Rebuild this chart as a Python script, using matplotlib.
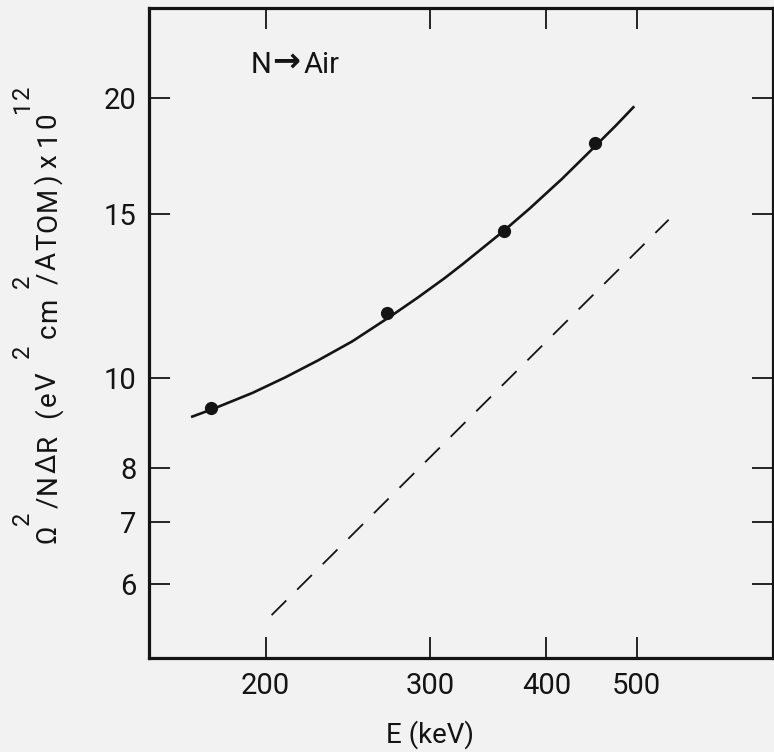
import matplotlib
matplotlib.use("Agg")
import matplotlib.pyplot as plt
from matplotlib.ticker import FixedLocator, FixedFormatter, NullLocator

plt.rcParams['font.family'] = ['Roboto', 'DejaVu Sans']

# data
point_E = [175, 270, 360, 451]
point_S = [9.29, 11.74, 14.4, 17.9]

curve_E = [166.4, 175.5, 193.7, 210.1, 227.8, 247.7, 273.3, 291.4, 311.3,
           325.4, 359.6, 383.7, 415.9, 447.8, 475.0, 497.0]
curve_S = [9.08, 9.26, 9.64, 10.02, 10.45, 10.95, 11.68, 12.21, 12.81,
           13.26, 14.38, 15.21, 16.38, 17.62, 18.69, 19.6]

dashed_E = [203, 541]
dashed_S = [5.56, 14.8]

x_ticks = [200, 300, 400, 500]
x_ticklabels = ['200', '300', '400', '500']
y_ticks = [6, 7, 8, 10, 15, 20]
y_ticklabels = ['6', '7', '8', '10', '15', '20']

# y-axis label pieces: (text, is_superscript)
ylabel_pieces = [('Ω', False), ('2', True), ('/NΔR', False), ('(eV', False),
                 ('2', True), ('cm', False), ('2', True), ('/ATOM)', False),
                 ('x', False), ('10', False), ('12', True)]
# start (bottom end) of each piece, pixels from top of figure (text layout)
ylabel_starts = [543, 525, 508, 418, 358, 338, 288, 284, 168, 146, 114]

W, H = 774, 752
bg = '#f2f2f2'
ink = '#141414'

fig = plt.figure(figsize=(W / 100, H / 100), dpi=100, facecolor=bg)
ax = fig.add_axes([149 / W, 94 / H, 624 / W, 650 / H], facecolor=bg)

ax.plot(curve_E, curve_S, color=ink, lw=1.9, solid_capstyle='butt',
        solid_joinstyle='round')
ax.plot(point_E, point_S, 'o', color=ink, ms=8.5)
ax.plot(dashed_E, dashed_S, color=ink, lw=1.3, linestyle=(0, (11.5, 8.5)))

ax.set_xscale('log')
ax.set_yscale('log')
ax.set_xlim(150, 700)
ax.set_ylim(5, 25)

ax.xaxis.set_major_locator(FixedLocator(x_ticks))
ax.xaxis.set_major_formatter(FixedFormatter(x_ticklabels))
ax.xaxis.set_minor_locator(NullLocator())
ax.yaxis.set_major_locator(FixedLocator(y_ticks))
ax.yaxis.set_major_formatter(FixedFormatter(y_ticklabels))
ax.yaxis.set_minor_locator(NullLocator())

ax.tick_params(which='major', direction='in', length=15, width=1.3, color=ink,
               top=True, right=True, labelsize=21, labelcolor=ink)
ax.tick_params(axis='y', pad=9)
ax.tick_params(axis='x', pad=10)

for s in ax.spines.values():
    s.set_linewidth(2.3)
    s.set_color(ink)

ax.set_xlabel('E (keV)', fontsize=20, color=ink)
ax.xaxis.set_label_coords((430 - 149) / 624, -0.095)

# rotated y label, drawn character by character with some letter spacing
renderer = fig.canvas.get_renderer()
tracking = 2.0
for (txt, sup), y0 in zip(ylabel_pieces, ylabel_starts):
    xb = 29 if sup else 56
    size = 17 if sup else 20
    ypos = H - y0  # pixels from bottom
    for ch in txt:
        t = fig.text(xb / W, ypos / H, ch, rotation=90, rotation_mode='anchor',
                     ha='left', va='baseline', fontsize=size, color=ink)
        bb = t.get_window_extent(renderer)
        ypos += bb.height + tracking

# annotation N -> Air
ax_y = (H - 73 - 94) / 650
ax.text((251 - 149) / 624, ax_y, 'N', transform=ax.transAxes, fontsize=21,
        color=ink, ha='left', va='baseline')
ax.text((286 - 149) / 624, ax_y + 0.004, '→', transform=ax.transAxes,
        fontsize=24, color=ink, ha='center', va='baseline', fontweight='bold')
ax.text((304 - 149) / 624, ax_y, 'Air', transform=ax.transAxes, fontsize=21,
        color=ink, ha='left', va='baseline')

fig.savefig('out.png', dpi=100, facecolor=bg)
